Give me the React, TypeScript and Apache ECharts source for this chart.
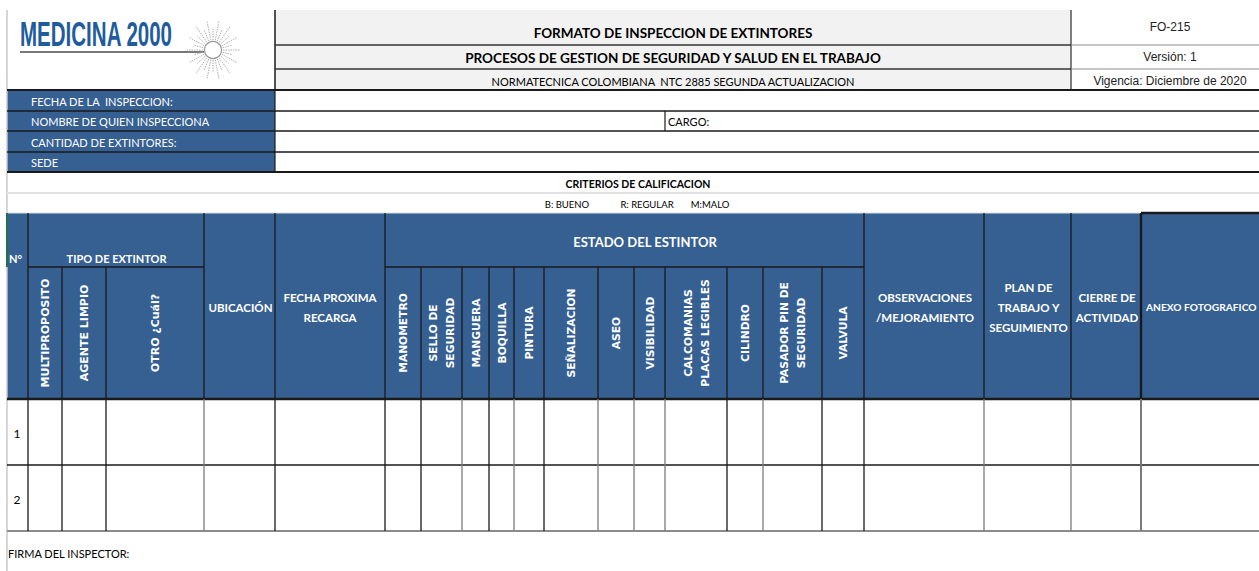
import React, { useEffect, useRef } from "react";
import * as echarts from "echarts";

// ---------- content (texts) ----------
const titleLines = [
  "FORMATO DE INSPECCION DE EXTINTORES",
  "PROCESOS DE GESTION DE SEGURIDAD Y SALUD EN EL TRABAJO",
  "NORMATECNICA COLOMBIANA  NTC 2885 SEGUNDA ACTUALIZACION",
];
const docInfo = ["FO-215", "Versión: 1", "Vigencia: Diciembre de 2020"];
const infoLabels = [
  "FECHA DE LA  INSPECCION:",
  "NOMBRE DE QUIEN INSPECCIONA",
  "CANTIDAD DE EXTINTORES:",
  "SEDE",
];
const cargoLabel = "CARGO:";
const criteriaTitle = "CRITERIOS DE CALIFICACION";
const criteria = ["B: BUENO", "R: REGULAR", "M:MALO"];
const numberHeader = "N°";
const tipoHeader = "TIPO DE EXTINTOR";
const tipoCols = ["MULTIPROPOSITO", "AGENTE LIMPIO", "OTRO ¿Cuál?"];
const ubicHeader = "UBICACIÓN";
const fechaHeader = "FECHA PROXIMA\nRECARGA";
const estadoHeader = "ESTADO DEL ESTINTOR";
const estadoCols = [
  "MANOMETRO",
  "SELLO DE\nSEGURIDAD",
  "MANGUERA",
  "BOQUILLA",
  "PINTURA",
  "SEÑALIZACION",
  "ASEO",
  "VISIBILIDAD",
  "CALCOMANIAS\nPLACAS LEGIBLES",
  "CILINDRO",
  "PASADOR PIN DE\nSEGURIDAD",
  "VALVULA",
];
const trailingHeaders = [
  "OBSERVACIONES\n/MEJORAMIENTO",
  "PLAN DE\nTRABAJO Y\nSEGUIMIENTO",
  "CIERRE DE\nACTIVIDAD",
];
const anexoHeader = "ANEXO FOTOGRAFICO";
const rowNumbers = ["1", "2"];
const signatureLabel = "FIRMA DEL INSPECTOR:";
const logoText = "MEDICINA 2000";

// ---------- layout (positions / styles) ----------
const W = 1259;
const H = 571;
const BLUE = "#366092";
const DARK = "#1a1a1a";
const GRAY = "#8c8c8c";
const CAL = "Lato, 'Open Sans', sans-serif";
const VERD = "'DejaVu Sans', Verdana, sans-serif";
const ARIAL = "'Liberation Sans', Arial, sans-serif";

const L = 7; // left edge
const R = W; // right edge
const titleTop = 10;
const titleRows = [10, 45, 69, 90];
const infoRows = [90, 111, 131, 152, 172];
const critLine = 193;
const headTop = 213;
const headMid = 267;
const headBot = 399;
const dataRows = [399, 465, 531];
const xLogoEnd = 275;
const xDocStart = 1071;
const xCargo = 665;

// column boundaries
const xNum = [7, 28];
const xTipo = [28, 62, 106, 204];
const xUbic = [204, 275];
const xFecha = [275, 385];
const xEstado = [385, 421, 462, 489, 514, 544, 598, 634, 665, 727, 763, 822, 864];
const xTrail = [864, 984, 1071, 1141];
const xAnexo = 1141;

// data-area vertical line colours (some Excel borders are grey)
const grayDataLines = new Set([204, 462, 514, 598, 634, 665, 763, 984, 1071, 1141]);

function App() {
  const ref = useRef<HTMLDivElement>(null);

  useEffect(() => {
    if (!ref.current) return;
    const chart = echarts.init(ref.current, null, { renderer: "svg" });
    const els: any[] = [];

    const rect = (x: number, y: number, w: number, h: number, fill: string, z = 0) =>
      els.push({ type: "rect", z, shape: { x, y, width: w, height: h }, style: { fill } });
    const line = (x1: number, y1: number, x2: number, y2: number, stroke: string, lw = 1, z = 5, dash?: number[]) =>
      els.push({
        type: "line",
        z,
        shape: { x1, y1, x2, y2 },
        style: { stroke, lineWidth: lw, lineDash: dash },
      });
    const text = (
      t: string,
      x: number,
      y: number,
      opt: {
        size?: number;
        weight?: string | number;
        family?: string;
        fill?: string;
        align?: string;
        rot?: number;
        lh?: number;
        sx?: number;
      } = {}
    ) =>
      els.push({
        type: "text",
        z: 10,
        x,
        y,
        rotation: opt.rot || 0,
        scaleX: opt.sx || 1,
        style: {
          text: t,
          fill: opt.fill || "#000",
          fontSize: opt.size || 12,
          fontWeight: opt.weight || "normal",
          fontFamily: opt.family || CAL,
          align: opt.align || "center",
          verticalAlign: "middle",
          lineHeight: opt.lh || (opt.size || 12) * 1.25,
        },
      });

    // background
    rect(0, 0, W, H, "#ffffff", -1);

    // ---- title block ----
    rect(xLogoEnd, titleTop, xDocStart - xLogoEnd, titleRows[3] - titleTop, "#f2f2f2");
    line(L, titleTop, L, H, "#c8c8c8", 1.5);
    line(xLogoEnd, titleTop, xLogoEnd, titleRows[3], DARK, 1.5);
    line(xDocStart, titleTop, xDocStart, titleRows[3], "#555", 1.5);
    [titleRows[1], titleRows[2]].forEach((y) => {
      line(xLogoEnd, y, xDocStart, y, "#333", 1.5);
      line(xDocStart, y, R, y, "#8a8a8a", 1);
    });
    line(L, titleRows[3], R, titleRows[3], DARK, 2);
    titleLines.forEach((t, i) => {
      const ys = [33, 58, 81];
      text(t, (xLogoEnd + xDocStart) / 2, ys[i], {
        size: i < 2 ? 13.5 : 11,
        weight: i < 2 ? "bold" : "normal",
      });
    });
    docInfo.forEach((t, i) => {
      const ys = [27, 57, 81];
      text(t, 1170, ys[i], { size: 12, family: ARIAL, fill: "#222" });
    });

    // ---- logo ----
    text(logoText, 20, 33, {
      size: 36,
      weight: "bold",
      family: ARIAL,
      fill: "#1f5c9e",
      align: "left",
      sx: 0.57,
    });
    line(20, 52, 204, 52, "#7a7a7a", 2.2);
    const cx = 213, cy = 50;
    for (let k = 0; k < 28; k++) {
      const a = (k / 28) * Math.PI * 2;
      const r2 = k % 2 === 0 ? 27 : 20;
      line(
        cx + Math.cos(a) * 10,
        cy + Math.sin(a) * 10,
        cx + Math.cos(a) * r2,
        cy + Math.sin(a) * r2 * 1.1,
        "#b0b0b0",
        1,
        6,
        [1.5, 1]
      );
    }
    els.push({
      type: "circle",
      z: 7,
      shape: { cx, cy, r: 8.5 },
      style: { fill: "#ffffff", stroke: "#9a9a9a", lineWidth: 1.2 },
    });

    // ---- info rows ----
    rect(L, infoRows[0], xLogoEnd - L, infoRows[4] - infoRows[0], BLUE);
    for (let i = 1; i < 4; i++) line(L, infoRows[i], R, infoRows[i], DARK, 1.5);
    line(L, infoRows[4], R, infoRows[4], DARK, 2.2);
    line(xLogoEnd, infoRows[0], xLogoEnd, infoRows[4], DARK, 1.2);
    line(xCargo, infoRows[1], xCargo, infoRows[2], DARK, 1.2);
    infoLabels.forEach((t, i) => {
      text(t, 31, (infoRows[i] + infoRows[i + 1]) / 2 + 0.5, {
        size: 11,
        fill: "#ffffff",
        align: "left",
      });
    });
    text(cargoLabel, xCargo + 3, (infoRows[1] + infoRows[2]) / 2 + 0.5, { size: 11, align: "left" });

    // ---- criteria ----
    text(criteriaTitle, 638, 184, { size: 10.5, weight: "bold" });
    line(L, critLine, R, critLine, "#e2e2e2", 2);
    const critX = [567, 647, 710];
    criteria.forEach((t, i) => text(t, critX[i], 204, { size: 9.5 }));

    // ---- table header ----
    rect(L, headTop, R - L, headBot - headTop, BLUE);
    line(L, headTop, R, headTop, "#dcdcdc", 1);
    line(L, headTop, L, headMid, "#217346", 2);
    // full-height header verticals
    const fullX = [xNum[1], xTipo[3], xUbic[1], xFecha[1], xEstado[12], xTrail[1], xTrail[2]];
    fullX.forEach((x) => line(x, headTop, x, headBot, DARK, 1.3));
    line(xAnexo, headTop, xAnexo, headBot, DARK, 2.4);
    line(xAnexo, headTop, R, headTop, DARK, 2.4);
    // sub-column lines
    line(xTipo[0], headMid, xTipo[3], headMid, DARK, 1.3);
    line(xEstado[0], headMid, xEstado[12], headMid, DARK, 1.3);
    [xTipo[1], xTipo[2]].forEach((x) => line(x, headMid, x, headBot, DARK, 1.3));
    xEstado.slice(1, 12).forEach((x) => line(x, headMid, x, headBot, DARK, 1.3));

    // header texts
    text(numberHeader, 9, 258, { size: 11, weight: "bold", fill: "#fff", align: "left" });
    text(tipoHeader, (xTipo[0] + xTipo[3]) / 2 + 0.5, 258, { size: 11, weight: "bold", fill: "#fff" });
    text(estadoHeader, 645, 242, { size: 13, weight: "bold", fill: "#fff" });
    const headMidY = (headMid + headBot) / 2;
    tipoCols.forEach((t, i) => {
      text(t, (xTipo[i] + xTipo[i + 1]) / 2 + 0.5, headMidY, {
        size: 11,
        weight: "bold",
        family: VERD,
        fill: "#fff",
        rot: Math.PI / 2,
      });
    });
    estadoCols.forEach((t, i) => {
      text(t, (xEstado[i] + xEstado[i + 1]) / 2 + 0.5, headMidY, {
        size: 10.7,
        weight: "bold",
        family: VERD,
        fill: "#fff",
        rot: Math.PI / 2,
        lh: 17,
      });
    });
    const fullMidY = 307;
    text(ubicHeader, (xUbic[0] + xUbic[1]) / 2 + 1, fullMidY, { size: 11.5, weight: "bold", fill: "#fff" });
    text(fechaHeader, (xFecha[0] + xFecha[1]) / 2, fullMidY, { size: 11.5, weight: "bold", fill: "#fff", lh: 20 });
    trailingHeaders.forEach((t, i) => {
      text(t, (xTrail[i] + xTrail[i + 1]) / 2 + 1, fullMidY, {
        size: 11.5,
        weight: "bold",
        fill: "#fff",
        lh: 20,
      });
    });
    text(anexoHeader, xAnexo + 5, fullMidY, { size: 10.2, weight: "bold", fill: "#fff", align: "left" });

    // ---- data rows ----
    line(L, headBot, R, headBot, DARK, 2.6);
    line(L, dataRows[1], R, dataRows[1], DARK, 1.5);
    line(L, dataRows[2], R, dataRows[2], GRAY, 2);
    const dataXs = [
      xNum[1], xTipo[1], xTipo[2], xTipo[3], xUbic[1], xFecha[1],
      ...xEstado.slice(1), xTrail[1], xTrail[2], xAnexo,
    ];
    dataXs.forEach((x) =>
      line(x, headBot, x, dataRows[2], grayDataLines.has(x) ? "#7a7a7a" : DARK, x === xAnexo ? 2 : 1.3)
    );
    rowNumbers.forEach((t, i) => {
      text(t, 17, (dataRows[i] + dataRows[i + 1]) / 2 + 1, { size: 12 });
    });

    text(signatureLabel, 8, 553, { size: 11, align: "left" });

    chart.setOption({ animation: false, graphic: { elements: els } });
    return () => chart.dispose();
  }, []);

  return (
    <div
      ref={ref}
      style={{ position: "fixed", left: 0, top: 0, width: W, height: H, background: "#fff" }}
    />
  );
}

export default App;
